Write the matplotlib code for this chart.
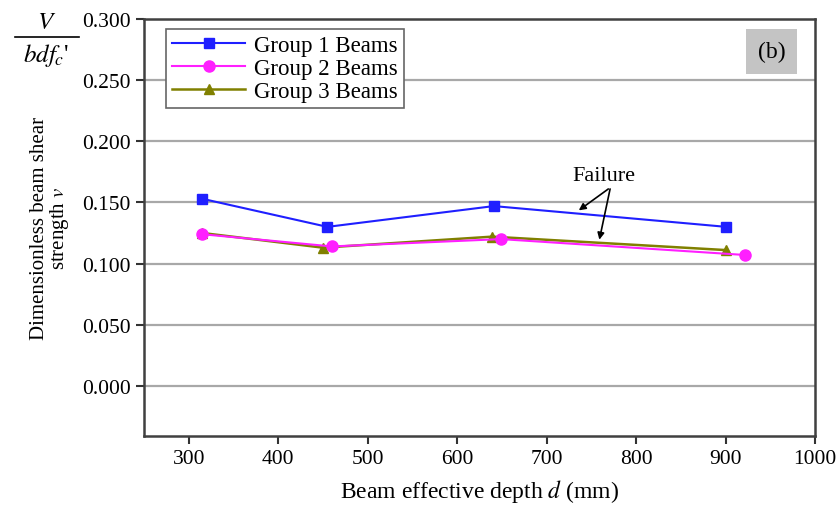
import matplotlib
matplotlib.use("Agg")
from matplotlib import pyplot as plt
from matplotlib.ticker import FormatStrFormatter

plt.rcParams['font.family'] = ['Liberation Serif', 'DejaVu Serif']
plt.rcParams['mathtext.fontset'] = 'stix'

# ### data
d_g1 = [315, 455, 641, 901]
v_g1 = [0.153, 0.130, 0.147, 0.130]
d_g2 = [315, 460, 649, 922]
v_g2 = [0.124, 0.114, 0.120, 0.107]
d_g3 = [315, 450, 639, 901]
v_g3 = [0.125, 0.113, 0.122, 0.111]
yticks = [0.0, 0.05, 0.10, 0.15, 0.20, 0.25, 0.30]
xticks = [300, 400, 500, 600, 700, 800, 900, 1000]

fig = plt.figure(figsize=(8.4, 5.06), dpi=100)
ax = fig.add_axes([0.1714, 0.1364, 0.7988, 0.8241])

for y in yticks[:-1]:
    ax.axhline(y, color='#a8a8a8', lw=1.6, zorder=1)

ax.plot(d_g1, v_g1, color='#1f1fff', marker='s', ms=7, lw=1.5, label='Group 1 Beams', zorder=3)
ax.plot(d_g3, v_g3, color='#808000', marker='^', ms=7, lw=1.8, label='Group 3 Beams', zorder=3)
ax.plot(d_g2, v_g2, color='#ff1fff', marker='o', ms=8, lw=1.5, label='Group 2 Beams', zorder=4)

ax.set_xlim(250, 1000)
ax.set_ylim(-0.041, 0.300)
ax.set_xticks(xticks)
ax.set_yticks(yticks)
ax.yaxis.set_major_formatter(FormatStrFormatter('%.3f'))
ax.tick_params(direction='out', length=6, width=1.5, labelsize=15.5, color='#333333')
for s in ax.spines.values():
    s.set_linewidth(1.8)
    s.set_color('#404040')

ax.set_xlabel('Beam effective depth $d$ (mm)', fontsize=17, labelpad=6)
ax.set_ylabel('Dimensionless beam shear\nstrength $v$', fontsize=15, labelpad=8, linespacing=0.95)

h, l = ax.get_legend_handles_labels()
order = [0, 2, 1]
leg = ax.legend([h[i] for i in order], [l[i] for i in order], loc='upper left',
                bbox_to_anchor=(0.033, 0.976), borderaxespad=0, fontsize=16.5, handlelength=3.2,
                labelspacing=0.1, borderpad=0.25, fancybox=False, framealpha=1,
                edgecolor='#666666', handletextpad=0.4)
leg.get_frame().set_linewidth(1.2)

ax.text(0.935, 0.922, '(b)', transform=ax.transAxes, fontsize=17, ha='center', va='center',
        bbox=dict(boxstyle='square,pad=0.5', fc='#c4c4c4', ec='none'))

ax.text(764, 0.172, 'Failure', fontsize=16, ha='center', va='center')
ax.annotate('', xy=(736, 0.1435), xytext=(769, 0.161),
            arrowprops=dict(arrowstyle='-|>', color='black', lw=1.2, shrinkA=0, shrinkB=0))
ax.annotate('', xy=(759, 0.1195), xytext=(771, 0.161),
            arrowprops=dict(arrowstyle='-|>', color='black', lw=1.2, shrinkA=0, shrinkB=0))

fig.text(0.055, 0.955, '$V$', fontsize=18, ha='center', va='center')
fig.add_artist(plt.Line2D([0.018, 0.094], [0.925, 0.925], color='black', lw=1.2))
fig.text(0.055, 0.89, "$bdf_c$'", fontsize=18, ha='center', va='center')

fig.savefig('out.png', dpi=100)
